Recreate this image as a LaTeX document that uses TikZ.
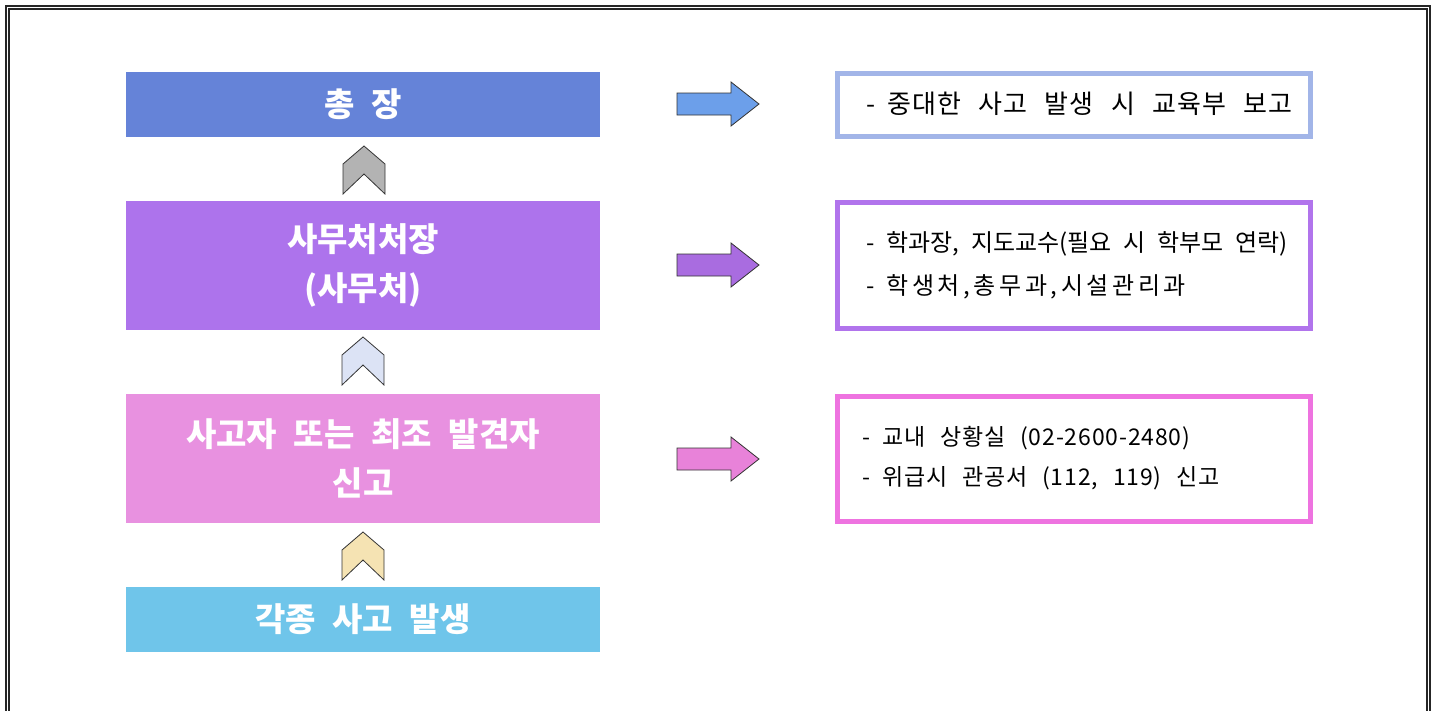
\documentclass[tikz,border=0pt]{standalone}
\usepackage{fontspec}
\newfontfamily\krtitle[WordSpace=2]{Noto Sans CJK KR}
\newfontfamily\krtext[WordSpace=2.5]{Noto Sans CJK KR}
\newfontfamily\krnarrow[WordSpace=2.2]{Noto Sans CJK KR}
\definecolor{jangblue}{RGB}{101,131,216}
\definecolor{samupurple}{RGB}{173,115,236}
\definecolor{singopink}{RGB}{232,145,224}
\definecolor{balsky}{RGB}{111,197,234}
\definecolor{chevgray}{RGB}{179,179,179}
\definecolor{chevlav}{RGB}{220,227,245}
\definecolor{chevwheat}{RGB}{245,227,179}
\definecolor{arrblue}{RGB}{108,159,234}
\definecolor{arrpurple}{RGB}{169,108,224}
\definecolor{arrpink}{RGB}{232,130,217}
\definecolor{bordblue}{RGB}{162,181,232}
\definecolor{bordpurple}{RGB}{177,116,236}
\definecolor{bordpink}{RGB}{238,115,224}

\begin{document}
\begin{tikzpicture}[x=1pt,y=-1pt,
    jbox/.style={minimum width=474pt,inner sep=0pt,text=white,align=center,
        font=\krtitle\bfseries\fontsize{33}{49}\selectfont},
    bbox/.style={minimum width=473pt,inner sep=0pt,line width=5pt},
    btxt/.style={anchor=west,inner sep=0pt,align=left},
    chev/.style={draw=black!80,line width=0.8pt},
    rarrow/.style={draw=black!80,line width=0.8pt},
    frame/.style={draw=black!85,line width=1.2pt}]
        \useasboundingbox (0,0) rectangle (1437,710);
        %테두리
        \draw [frame] (6,720) -- (6,6) -- (1430,6) -- (1430,720);
        \draw [frame] (9,720) -- (9,9) -- (1427,9) -- (1427,720);
        %왼쪽 상자
        \node [jbox,fill=jangblue,minimum height=65pt] (chongjang) at (363,104.5) {총 장};
        \node [jbox,fill=samupurple,minimum height=129pt] (samu) at (363,265.5) {사무처처장\\(사무처)};
        \node [jbox,fill=singopink,minimum height=129pt] (singo) at (363,458.5) {사고자 또는 최조 발견자\\신고};
        \node [jbox,fill=balsky,minimum height=65pt] (balsaeng) at (363,619.5) {각종 사고 발생};
        %위쪽 화살표
        \draw [chev,fill=chevgray] (364,146) -- ++(21,18) -- ++(0,30) -- ++(-21,-20) -- ++(-21,20) -- ++(0,-30) -- cycle;
        \draw [chev,fill=chevlav] (363,337) -- ++(21,18) -- ++(0,30) -- ++(-21,-20) -- ++(-21,20) -- ++(0,-30) -- cycle;
        \draw [chev,fill=chevwheat] (363,532) -- ++(21,18) -- ++(0,30) -- ++(-21,-20) -- ++(-21,20) -- ++(0,-30) -- cycle;
        %오른쪽 화살표
        \draw [rarrow,fill=arrblue] (677,93) -- ++(54,0) -- ++(0,-11) -- ++(28,22) -- ++(-28,22) -- ++(0,-11) -- ++(-54,0) -- cycle;
        \draw [rarrow,fill=arrpurple] (677,254) -- ++(54,0) -- ++(0,-11) -- ++(28,22) -- ++(-28,22) -- ++(0,-11) -- ++(-54,0) -- cycle;
        \draw [rarrow,fill=arrpink] (677,448) -- ++(54,0) -- ++(0,-11) -- ++(28,22) -- ++(-28,22) -- ++(0,-11) -- ++(-54,0) -- cycle;
        %오른쪽 상자
        \node [bbox,draw=bordblue,minimum height=63pt] (bogo1) at (1073.5,104.75) {};
        \node [bbox,draw=bordpurple,minimum height=126pt] (bogo2) at (1073.5,265) {};
        \node [bbox,draw=bordpink,minimum height=125pt] (bogo3) at (1073.5,458.5) {};
        \node [btxt,font=\krtext\fontsize{26}{43}\selectfont] (t1) at (866,104) {-\hspace{12pt}{\addfontfeature{LetterSpace=4.3}중대한 사고 발생 시 교육부 보고}};
        \node [btxt,font=\krnarrow\fontsize{24}{43}\selectfont] (t2) at (866,265.5) {-\hspace{12pt}학과장, 지도교수(필요 시 학부모 연락)\\-\hspace{12pt}{\addfontfeature{LetterSpace=15}학생처,총무과,시설관리과}};
        \node [btxt,font=\krtext\fontsize{23}{40}\selectfont] (t3) at (862,458) {-\hspace{12pt}{\addfontfeature{LetterSpace=3.6}교내 상황실 (02-2600-2480)}\\-\hspace{12pt}{\addfontfeature{LetterSpace=3.6}위급시 관공서 (112, 119) 신고}};
    \end{tikzpicture}
\end{document}
